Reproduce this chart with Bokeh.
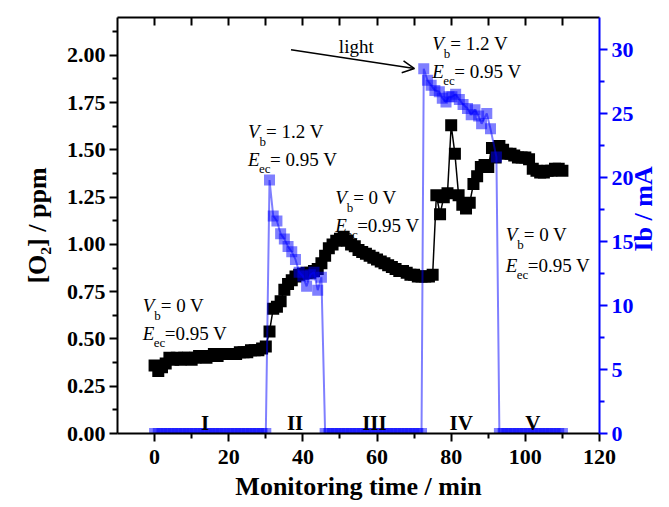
import math
from bokeh.plotting import figure
from bokeh.models import (Range1d, LinearAxis, FixedTicker, PrintfTickFormatter,
                          Label, Arrow, OpenHead)
from bokeh.embed import file_html
from bokeh.resources import INLINE

# ---------------- data ----------------
o2_time = [0, 1, 2, 3, 4, 5, 6, 7, 8, 9, 10, 11, 12, 13, 14, 15, 16, 17, 18, 19, 20,
           21, 22, 23, 24, 25, 26, 27, 28, 29, 30,
           31, 32, 33, 34, 35, 36, 37, 38, 39, 40, 41, 42, 43, 44, 45, 46,
           47, 48, 49, 50, 51, 52, 53, 54, 55, 56, 57, 58, 59, 60, 61, 62, 63, 64, 65,
           66, 67, 68, 69, 70, 71, 72, 73, 74, 75,
           76, 77, 78, 79, 80, 81, 82, 83, 84, 85, 86, 87, 88, 89, 90, 91, 92, 93, 94,
           95, 96, 97, 98, 99, 100, 101, 102, 103, 104, 105, 106, 107, 108, 109, 110]
o2_ppm = [0.36, 0.33, 0.35, 0.37, 0.40, 0.39, 0.40, 0.39, 0.40, 0.40, 0.39, 0.40, 0.41,
          0.41, 0.40, 0.41, 0.42, 0.41, 0.42, 0.42, 0.42, 0.42, 0.42, 0.43, 0.43, 0.43,
          0.44, 0.44, 0.44, 0.45, 0.46,
          0.54, 0.66, 0.67, 0.70, 0.76, 0.79, 0.81, 0.83, 0.84, 0.845, 0.85, 0.85, 0.86,
          0.87, 0.90, 0.94,
          0.98, 1.00, 1.02, 1.03, 1.04, 1.02, 1.00, 0.99, 0.97, 0.96, 0.95, 0.94, 0.93,
          0.92, 0.91, 0.90, 0.89, 0.88, 0.87, 0.86, 0.86, 0.85, 0.84, 0.84, 0.83, 0.83,
          0.83, 0.83, 0.84,
          1.26, 1.16, 1.25, 1.27, 1.63, 1.48, 1.26, 1.21, 1.19, 1.22, 1.32, 1.36, 1.41,
          1.42, 1.41, 1.51, 1.46, 1.52, 1.50, 1.48, 1.48, 1.47, 1.46, 1.46, 1.46, 1.45,
          1.40, 1.39, 1.38, 1.38, 1.39, 1.39, 1.40, 1.40, 1.39]

ib_time = [0, 1, 2, 3, 4, 5, 6, 7, 8, 9, 10, 11, 12, 13, 14, 15, 16, 17, 18, 19, 20,
           21, 22, 23, 24, 25, 26, 27, 28, 29, 30,
           31, 32, 33, 34, 35, 36, 37, 38, 39, 40, 41, 42, 43, 44, 45,
           46, 47, 48, 49, 50, 51, 52, 53, 54, 55, 56, 57, 58, 59, 60, 61, 62, 63, 64,
           65, 66, 67, 68, 69, 70, 71, 72,
           72.6, 73.6, 74.6, 75.6, 76.8, 77.6, 78.6, 79.4, 80.2, 81.2, 82.2, 83.2, 84.4,
           85.4, 86.4, 87.4, 88.2, 89.6, 90.6, 92.2,
           93, 94, 95, 96, 97, 98, 99, 100, 101, 102, 103, 104, 105, 106, 107, 108, 109, 110]
ib_mA = [0, 0, 0, 0, 0, 0, 0, 0, 0, 0, 0, 0, 0, 0, 0, 0, 0, 0, 0, 0, 0,
         0, 0, 0, 0, 0, 0, 0, 0, 0, 0,
         19.8, 17.0, 16.6, 15.6, 15.2, 14.6, 14.2, 13.6, 12.6, 12.3, 11.5, 12.4, 12.6,
         11.2, 12.2,
         0, 0, 0, 0, 0, 0, 0, 0, 0, 0, 0, 0, 0, 0, 0, 0, 0, 0, 0,
         0, 0, 0, 0, 0, 0, 0, 0,
         28.5, 27.6, 27.2, 26.8, 26.7, 26.2, 25.9, 26.3, 26.3, 26.5, 26.1, 25.7, 25.4,
         24.9, 25.3, 24.8, 24.2, 25.0, 23.8, 21.6,
         0, 0, 0, 0, 0, 0, 0, 0, 0, 0, 0, 0, 0, 0, 0, 0, 0, 0]

x_major = [0, 20, 40, 60, 80, 100, 120]
x_minor = [10, 30, 50, 70, 90, 110]
top_ticks = [0, 10, 20, 30, 40, 50, 60, 70, 80, 90, 100, 110]
y_major = [0.0, 0.25, 0.5, 0.75, 1.0, 1.25, 1.5, 1.75, 2.0]
y_minor = [0.125, 0.375, 0.625, 0.875, 1.125, 1.375, 1.625, 1.875, 2.125]
r_major = [0, 5, 10, 15, 20, 25, 30]
r_minor = [2.5, 7.5, 12.5, 17.5, 22.5, 27.5]

regions = ["I", "II", "III", "IV", "V"]
region_x = [13.6, 37.9, 59.3, 82.7, 102.0]

x_title = "Monitoring time / min"
y_title = "[O\u2082] / ppm"
r_title = "Ib / mA"

FONT = "Liberation Serif"
BLUE = "#0000ff"

p = figure(x_range=Range1d(-10, 120), y_range=Range1d(0, 2.2),
           frame_width=482, frame_height=416,
           min_border_left=117, min_border_right=70, min_border_top=17, min_border_bottom=74,
           output_backend="svg", toolbar_location=None,
           background_fill_color="white", border_fill_color="white")
p.extra_y_ranges = {"ib": Range1d(0, 32.5)}
p.grid.visible = False
p.outline_line_color = None


def style_axis(ax, color="black"):
    ax.axis_line_color = color
    ax.axis_line_width = 2
    ax.major_tick_line_color = color
    ax.minor_tick_line_color = color
    ax.major_tick_line_width = 2
    ax.minor_tick_line_width = 2
    ax.major_tick_in = 0
    ax.major_tick_out = 8
    ax.minor_tick_in = 0
    ax.minor_tick_out = 5
    ax.major_label_text_color = color
    ax.major_label_text_font = FONT
    ax.major_label_text_font_style = "bold"
    ax.major_label_text_font_size = "22px"
    ax.axis_label_text_color = color
    ax.axis_label_text_font = FONT
    ax.axis_label_text_font_style = "bold"
    ax.axis_label_text_font_size = "26px"


# bottom axis
xa = p.xaxis[0]
xa.ticker = FixedTicker(ticks=x_major, minor_ticks=x_minor)
style_axis(xa)
xa.major_label_standoff = 8
xa.axis_label = x_title
xa.axis_label_standoff = 5

# left axis
ya = p.yaxis[0]
ya.ticker = FixedTicker(ticks=y_major, minor_ticks=y_minor)
ya.formatter = PrintfTickFormatter(format="%.2f")
style_axis(ya)
ya.major_label_standoff = 4
ya.axis_label = y_title
ya.axis_label_standoff = 12

# right axis (ticks + labels)
ra = LinearAxis(y_range_name="ib", ticker=FixedTicker(ticks=r_major, minor_ticks=r_minor))
style_axis(ra, BLUE)
ra.major_label_standoff = 4
p.add_layout(ra, "right")

# right axis title carrier (no line / ticks)
rt = LinearAxis(y_range_name="ib", ticker=FixedTicker(ticks=[], minor_ticks=[]))
style_axis(rt, BLUE)
rt.axis_line_color = None
rt.major_tick_out = 0
rt.minor_tick_out = 0
rt.major_label_standoff = 0
rt.axis_label_standoff = 7
try:
    rt.axis_label_orientation = math.pi / 2
except Exception:
    pass
aligned = False
try:
    rt.axis_label_align = "start"
    aligned = True
except Exception:
    pass
rt.axis_label = ("\u00a0" * 28 + r_title) if aligned else r_title
p.add_layout(rt, "right")

# top axis (ticks only, pointing inward)
ta = LinearAxis(ticker=FixedTicker(ticks=top_ticks, minor_ticks=[]))
ta.axis_line_width = 2
ta.major_tick_line_width = 2
ta.major_tick_in = 8
ta.major_tick_out = 0
ta.minor_tick_in = 0
ta.minor_tick_out = 0
ta.major_label_overrides = {t: "" for t in top_ticks}
ta.major_label_text_font_size = "1px"
ta.major_label_standoff = 0
p.add_layout(ta, "above")

# series
p.line(o2_time, o2_ppm, line_color="black", line_width=1.5)
p.scatter(o2_time, o2_ppm, marker="square", size=12, fill_color="black", line_color=None)
p.line(ib_time, ib_mA, y_range_name="ib", line_color=BLUE, line_alpha=0.5, line_width=2)
p.scatter(ib_time, ib_mA, y_range_name="ib", marker="square", size=11,
          fill_color=BLUE, fill_alpha=0.5, line_color=None)


def txt(x, y, s, size, style="normal", xo=0, yo=0, color="black", align="left"):
    p.add_layout(Label(x=x, y=y, text=s, x_offset=xo, y_offset=yo, text_font=FONT,
                       text_font_size=f"{size}px", text_font_style=style, text_color=color,
                       text_align=align, text_baseline="alphabetic"))


# condition annotations: (x, baseline of V line, baseline of E line, V rest, E rest)
annots = [
    (-3.2, 0.676, 0.530, "= 0 V", "=0.95 V"),
    (25.2, 1.598, 1.448, "= 1.2 V", "= 0.95 V"),
    (48.7, 1.250, 1.100, "= 0 V", " =0.95 V"),
    (74.9, 2.062, 1.912, "= 1.2 V", "= 0.95 V"),
    (94.7, 1.052, 0.888, "= 0 V", "=0.95 V"),
]
for (ax, yv, ye, vr, er) in annots:
    txt(ax, yv, "V", 19, "italic")
    txt(ax, yv, "b", 13, xo=11.5, yo=-10)
    txt(ax, yv, vr, 19, xo=18)
    txt(ax, ye, "E", 19, "italic")
    txt(ax, ye, "ec", 13, xo=11, yo=-9)
    txt(ax, ye, er, 19, xo=22)

txt(49.7, 2.048, "light", 19)
p.add_layout(Arrow(end=OpenHead(size=12, line_width=1.5, line_color="black"),
                   x_start=36.8, y_start=2.03, x_end=70.1, y_end=1.93,
                   line_width=1.5, line_color="black"))

for name, rx in zip(regions, region_x):
    txt(rx, 0.058, name, 21, "bold", align="center")

open("out.html", "w").write(file_html(p, INLINE))
